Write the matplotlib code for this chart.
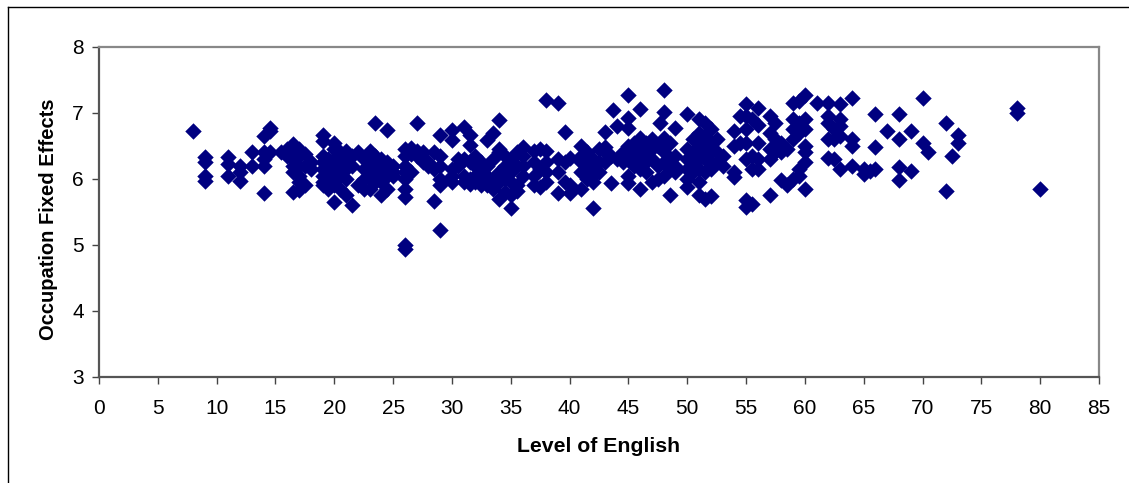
import matplotlib
matplotlib.use("Agg")
import matplotlib.pyplot as plt

# values, grouped by level of English
groups = [
    (8, [6.73]),
    (9, [6.33, 6.25, 6.05, 5.97]),
    (11, [6.33, 6.22, 6.05]),
    (12, [6.2, 6.1, 5.97]),
    (13, [6.4, 6.2]),
    (14, [6.65, 6.4, 6.3, 6.2, 5.78]),
    (14.5, [6.72, 6.77, 6.4]),
    (15.5, [6.4]),
    (16, [6.45, 6.35]),
    (16.5, [6.53, 6.4, 6.3, 6.2, 6.1, 5.8]),
    (17, [6.45, 6.35, 6.2, 6.05, 5.95, 5.83]),
    (17.5, [6.38, 6.2, 5.9]),
    (18, [6.25, 6.15]),
    (19, [6.66, 6.58, 6.35, 6.25, 6.15, 6.05, 5.95, 5.9]),
    (19.5, [6.3, 6.2, 6.1, 6.0, 5.85]),
    (20, [6.55, 6.45, 6.3, 6.2, 6.1, 6.0, 5.9, 5.65]),
    (20.5, [6.4, 6.2, 6.05, 5.85]),
    (21, [6.42, 6.3, 6.15, 6.0, 5.75]),
    (21.5, [6.35, 6.2, 5.6]),
    (22, [6.4, 5.9]),
    (22.5, [6.3, 6.15, 6.0, 5.85]),
    (23, [6.42, 6.3, 6.2, 6.1, 6.0, 5.85]),
    (23.5, [6.84, 6.35, 6.2, 6.05, 5.95]),
    (24, [6.3, 6.2, 6.1, 5.95, 5.75]),
    (24.5, [6.74, 6.25, 6.15, 6.05, 5.85]),
    (25, [6.2, 6.1, 6.05]),
    (26, [6.45, 6.35, 6.2, 6.1, 6.0, 5.85, 5.72, 5.0, 4.94]),
    (26.5, [6.47, 6.38, 6.1]),
    (27, [6.85, 6.42, 6.35]),
    (27.5, [6.4, 6.25]),
    (28, [6.25, 6.2]),
    (28.5, [6.4, 6.15, 5.66]),
    (29, [6.66, 6.35, 6.2, 6.0, 5.9, 5.22]),
    (30, [6.74, 6.59, 6.15, 6.05, 5.95]),
    (30.5, [6.3, 6.2]),
    (31, [6.78, 6.3, 6.05, 5.95]),
    (31.5, [6.66, 6.51, 6.25, 6.0, 5.92]),
    (32, [6.35, 6.2, 6.05, 5.95]),
    (32.5, [6.25, 6.1, 6.0, 5.9]),
    (33, [6.59, 6.2, 6.05, 5.9]),
    (33.5, [6.69, 6.3, 6.0, 5.85]),
    (34, [6.89, 6.45, 6.4, 6.1, 5.95, 5.7]),
    (34.5, [6.35, 6.2, 6.0, 5.8]),
    (35, [6.3, 6.1, 5.95, 5.75, 5.56]),
    (35.5, [6.4, 6.2, 5.9, 5.82]),
    (36, [6.48, 6.35, 6.2, 6.05]),
    (37, [6.42, 6.25, 6.05, 5.9]),
    (37.5, [6.45, 6.15, 5.88]),
    (38, [7.19, 6.42, 6.25, 6.1, 5.95]),
    (39, [7.15, 6.3, 6.1, 5.78]),
    (39.6, [6.71, 6.25, 5.95]),
    (40, [6.32, 5.9, 5.78]),
    (41, [6.5, 6.35, 6.25, 6.1, 5.85]),
    (41.5, [6.4, 6.2, 6.0]),
    (42, [6.3, 6.15, 6.05, 5.95, 5.55]),
    (42.5, [6.45, 6.25, 6.1]),
    (43, [6.71, 6.48, 6.4, 6.25]),
    (43.5, [6.35, 5.93]),
    (43.7, [7.04]),
    (44, [6.8, 6.3]),
    (44.5, [6.4, 6.25]),
    (45, [7.27, 6.93, 6.77, 6.5, 6.3, 6.05, 5.93]),
    (45.5, [6.55, 6.4, 6.2]),
    (46, [7.06, 6.62, 6.45, 6.3, 6.15, 5.85]),
    (46.5, [6.55, 6.4, 6.25, 6.1]),
    (47, [6.6, 6.45, 6.3, 5.95]),
    (47.5, [6.5, 6.2, 6.0]),
    (47.7, [6.84]),
    (48, [7.35, 7.01, 6.62, 6.4, 6.25, 6.05]),
    (48.5, [6.55, 6.3, 6.15, 5.76]),
    (49, [6.77, 6.35, 6.2, 6.1]),
    (50, [6.98, 6.45, 6.3, 6.15, 6.0, 5.88]),
    (50.5, [6.6, 6.4, 6.25, 6.1]),
    (51, [6.9, 6.7, 6.55, 6.4, 6.3, 6.15, 5.95, 5.75]),
    (51.5, [6.85, 6.65, 6.45, 6.3, 6.1, 5.7]),
    (52, [6.75, 6.55, 6.4, 6.25, 6.15, 5.74]),
    (52.5, [6.6, 6.4, 6.25]),
    (53, [6.35, 6.2]),
    (54, [6.72, 6.5, 6.1, 6.03]),
    (54.5, [6.95, 6.55]),
    (55, [7.13, 6.95, 6.75, 6.55, 6.3, 5.68, 5.57]),
    (55.5, [6.9, 6.35, 6.15, 5.62]),
    (56, [7.08, 6.82, 6.55, 6.3, 6.15]),
    (57, [6.95, 6.7, 6.45, 6.3, 5.76]),
    (57.5, [6.85, 6.6, 6.4]),
    (58, [6.55, 6.4, 5.98]),
    (58.5, [6.45, 5.9]),
    (59, [7.15, 6.9, 6.75, 6.6, 6.0]),
    (59.5, [7.18, 6.85, 6.7, 6.05, 6.15]),
    (60, [7.27, 6.9, 6.75, 6.5, 6.4, 6.25, 5.84]),
    (61, [7.15]),
    (62, [7.15, 6.95, 6.85, 6.6, 6.32]),
    (62.5, [6.75, 6.6, 6.3]),
    (63, [7.13, 6.9, 6.8, 6.65, 6.15]),
    (64, [7.22, 6.6, 6.5, 6.2]),
    (65, [6.15, 6.08]),
    (65.5, [6.12]),
    (66, [6.98, 6.48, 6.15]),
    (67, [6.72]),
    (68, [6.98, 6.6, 6.18, 5.98]),
    (69, [6.72, 6.12]),
    (70, [7.23, 6.55]),
    (70.5, [6.4]),
    (72, [6.84, 5.82]),
    (72.5, [6.35]),
    (73, [6.67, 6.55]),
    (78, [7.08, 7.0]),
    (80, [5.85]),
]

english = [x for x, ys in groups for _ in ys]
occupation = [y for _, ys in groups for y in ys]

x_ticks = list(range(0, 90, 5))
y_ticks = [3, 4, 5, 6, 7, 8]

plt.rcParams['font.family'] = ['Liberation Sans', 'DejaVu Sans']

fig = plt.figure(figsize=(11.29, 4.83), dpi=100)
ax = fig.add_axes([99 / 1129, 1 - 376.5 / 483, 1000 / 1129, 329.5 / 483])

ax.scatter(english, occupation, marker='D', s=70, color='#000080', linewidths=0, clip_on=False, zorder=3)

ax.set_xlim(0, 85)
ax.set_ylim(3, 8)
ax.set_xticks(x_ticks)
ax.set_yticks(y_ticks)
ax.tick_params(axis='both', labelsize=15, length=5, width=1, color='#444444', direction='out')
ax.tick_params(axis='x', pad=11)
ax.tick_params(axis='y', pad=6)

ax.spines['left'].set_color('#555555')
ax.spines['bottom'].set_color('#555555')
ax.spines['top'].set_color('#888888')
ax.spines['right'].set_color('#888888')
for s in ax.spines.values():
    s.set_linewidth(1.6)

ax.set_xlabel('Level of English', fontsize=15.3, fontweight='bold', labelpad=14)
ax.set_ylabel('Occupation Fixed Effects', fontsize=14.5, fontweight='bold')
ax.yaxis.set_label_coords(-41 / 1000, 0.477)

# outer chart border, only top and left are visible in the crop
fig.add_artist(plt.Line2D([8 / 1129, 8 / 1129], [0, 1 - 7 / 483], color='black', lw=1))
fig.add_artist(plt.Line2D([8 / 1129, 1], [1 - 7 / 483, 1 - 7 / 483], color='black', lw=1))

fig.savefig('out.png', dpi=100)
